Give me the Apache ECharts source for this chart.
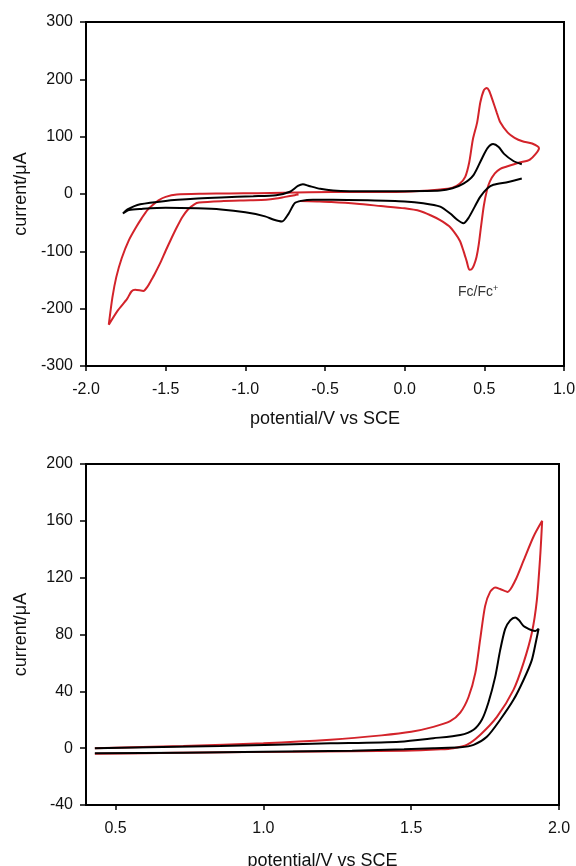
<!DOCTYPE html>
<html>
<head>
<meta charset="utf-8">
<script src="https://cdn.jsdelivr.net/npm/echarts@6/dist/echarts.min.js"></script>
<style>
  html, body { margin: 0; padding: 0; background: #fff; }
  #chart { width: 576px; height: 866px; }
</style>
</head>
<body>
<div id="chart"></div>
<script>
// [potential V, current uA], in scan order
const topBlack = [
  [0.735, 27], [0.65, 21], [0.557, 16], [0.52, 10], [0.474, -5], [0.44, -22], [0.40, -42], [0.369, -51],
  [0.33, -45], [0.286, -34], [0.223, -22], [0.116, -16], [0, -13], [-0.23, -11], [-0.45, -10],
  [-0.576, -10], [-0.65, -12], [-0.69, -16], [-0.73, -35], [-0.77, -48], [-0.82, -45], [-0.876, -39],
  [-1.0, -32], [-1.153, -27], [-1.3, -25], [-1.5, -24], [-1.65, -26], [-1.73, -28], [-1.768, -34],
  [-1.74, -27], [-1.66, -18], [-1.5, -12], [-1.3, -8], [-1.153, -6], [-0.95, -4], [-0.807, -2],
  [-0.72, 4], [-0.67, 14], [-0.639, 17], [-0.6, 14], [-0.53, 9], [-0.45, 6], [-0.345, 5], [0, 5],
  [0.223, 6], [0.30, 10], [0.369, 18], [0.432, 33], [0.485, 62], [0.52, 80], [0.555, 87],
  [0.59, 82], [0.624, 70], [0.68, 58], [0.735, 52]
];
const topRed = [
  [-0.657, -12], [-0.55, -13], [-0.46, -14], [-0.3, -17], [-0.15, -21], [0, -25], [0.1, -30],
  [0.162, -37], [0.22, -45], [0.278, -56], [0.32, -70], [0.347, -82], [0.37, -100], [0.39, -118],
  [0.406, -132], [0.421, -131], [0.435, -124], [0.451, -110], [0.465, -88], [0.48, -55], [0.497, -20],
  [0.516, 6], [0.535, 22], [0.566, 36], [0.6, 44], [0.641, 48], [0.72, 55], [0.786, 60], [0.843, 80],
  [0.80, 88], [0.739, 92], [0.69, 98], [0.647, 107], [0.6, 125], [0.578, 142], [0.55, 165],
  [0.53, 180], [0.515, 185], [0.497, 181], [0.475, 160], [0.455, 125], [0.428, 95], [0.405, 55],
  [0.38, 30], [0.345, 18], [0.3, 11], [0.223, 8], [0, 4], [-0.3, 3.5], [-0.6, 3], [-0.922, 1.5],
  [-1.1, 1], [-1.268, 0.5], [-1.43, -1], [-1.5, -5], [-1.545, -11], [-1.585, -20], [-1.615, -28],
  [-1.65, -42], [-1.684, -57], [-1.73, -80], [-1.776, -112], [-1.81, -145], [-1.834, -180],
  [-1.857, -228], [-1.8, -203], [-1.742, -183], [-1.715, -170], [-1.691, -167], [-1.639, -169],
  [-1.615, -162], [-1.59, -150], [-1.568, -139], [-1.53, -118], [-1.5, -99], [-1.465, -78],
  [-1.43, -58], [-1.395, -40], [-1.36, -27], [-1.32, -18], [-1.291, -15], [-1.153, -12.5],
  [-0.968, -11], [-0.87, -10], [-0.807, -8], [-0.75, -5], [-0.69, -2], [-0.666, -1]
];
const bottomBlack = [
  [0.43, -3.6], [0.729, -3.2], [1.0, -2.6], [1.3, -1.8], [1.476, -0.8], [1.575, 0], [1.666, 0.6],
  [1.711, 2.3], [1.756, 8], [1.801, 20], [1.846, 34], [1.88, 48], [1.908, 62], [1.923, 76],
  [1.931, 84], [1.92, 82.5], [1.908, 83], [1.88, 86], [1.865, 90], [1.852, 92], [1.835, 90],
  [1.818, 84], [1.801, 69], [1.784, 50], [1.761, 32], [1.739, 20], [1.711, 13], [1.666, 9.3],
  [1.575, 7], [1.462, 4.6], [1.227, 3.4], [0.854, 1.6], [0.43, 0]
];
const bottomRed = [
  [0.43, -4], [0.6, -3.6], [0.8, -3], [1.1, -2.5], [1.3, -2.1], [1.476, -1.8], [1.6, -0.8],
  [1.643, 0], [1.688, 2.3], [1.733, 9.3], [1.79, 22], [1.846, 41], [1.88, 60], [1.908, 81],
  [1.925, 104], [1.937, 137], [1.943, 160], [1.914, 149], [1.88, 132], [1.852, 118], [1.826, 110],
  [1.801, 112], [1.784, 113], [1.767, 110], [1.75, 100], [1.733, 76], [1.717, 53], [1.694, 36],
  [1.666, 25], [1.632, 19], [1.575, 15], [1.5, 11.5], [1.4, 9], [1.227, 6], [1.0, 3.5],
  [0.729, 1.6], [0.43, 0]
];
const bottomXTicks = [0.5, 1.0, 1.5, 2.0];

const FONT = '"Liberation Sans", Arial, sans-serif';
const RED = '#d3232a';

function xAxisOf(gridIndex, min, max, extra) {
  return Object.assign({
    type: 'value',
    gridIndex: gridIndex,
    min: min,
    max: max,
    name: 'potential/V vs SCE',
    nameLocation: 'middle',
    nameGap: 44,
    nameTextStyle: { fontFamily: FONT, fontSize: 18, color: '#111' },
    axisLine: { show: true, onZero: false, lineStyle: { color: '#000', width: 2 } },
    axisTick: { show: true, inside: false, length: 5, lineStyle: { color: '#000', width: 1.5 } },
    axisLabel: {
      fontFamily: FONT, fontSize: 16, color: '#111', margin: 16,
      showMinLabel: true, showMaxLabel: true,
      formatter: v => v.toFixed(1)
    },
    splitLine: { show: false }
  }, extra || {});
}

function yAxisOf(gridIndex, min, max, interval) {
  return {
    type: 'value',
    gridIndex: gridIndex,
    min: min,
    max: max,
    interval: interval,
    name: 'current/\u03bcA',
    nameLocation: 'middle',
    nameGap: 56,
    nameRotate: 90,
    nameTextStyle: { fontFamily: FONT, fontSize: 18, color: '#111' },
    axisLine: { show: true, onZero: false, lineStyle: { color: '#000', width: 2 } },
    axisTick: { show: true, inside: false, length: 6, lineStyle: { color: '#000', width: 1.5 } },
    axisLabel: { fontFamily: FONT, fontSize: 16, color: '#111', margin: 13 },
    splitLine: { show: false }
  };
}

function curve(name, data, color, idx) {
  return {
    name: name,
    type: 'line',
    xAxisIndex: idx,
    yAxisIndex: idx,
    data: data,
    showSymbol: false,
    symbol: 'none',
    smooth: 0.25,
    lineStyle: { color: color, width: 2 },
    itemStyle: { color: color },
    z: color === RED ? 3 : 4
  };
}

const chart = echarts.init(document.getElementById('chart'), null, { renderer: 'canvas' });
chart.setOption({
  animation: false,
  backgroundColor: '#fff',
  grid: [
    { left: 86, top: 22, width: 478, height: 344, outerBoundsMode: 'none', show: true, borderColor: '#000', borderWidth: 2, backgroundColor: 'transparent' },
    { left: 86, top: 464, width: 473, height: 341, outerBoundsMode: 'none', show: true, borderColor: '#000', borderWidth: 2, backgroundColor: 'transparent' }
  ],
  xAxis: [
    xAxisOf(0, -2.0, 1.0, { interval: 0.5 }),
    xAxisOf(1, 0.4, 2.0, {
      nameGap: 47,
      axisTick: { show: true, inside: false, length: 5, customValues: bottomXTicks, lineStyle: { color: '#000', width: 1.5 } },
      axisLabel: {
        fontFamily: FONT, fontSize: 16, color: '#111', margin: 16,
        customValues: bottomXTicks,
        formatter: v => v.toFixed(1)
      }
    })
  ],
  yAxis: [
    yAxisOf(0, -300, 300, 100),
    yAxisOf(1, -40, 200, 40)
  ],
  graphic: [
    {
      type: 'text',
      left: 458,
      top: 284,
      style: {
        text: 'Fc/Fc{sup|+}',
        fontFamily: FONT,
        fontSize: 14,
        fill: '#333',
        rich: { sup: { fontSize: 9, fill: '#333', verticalAlign: 'top', padding: [0, 0, 8, 0] } }
      }
    }
  ],
  series: [
    curve('red CV (top)', topRed, RED, 0),
    curve('black CV (top)', topBlack, '#000', 0),
    curve('red CV (bottom)', bottomRed, RED, 1),
    curve('black CV (bottom)', bottomBlack, '#000', 1)
  ]
});
</script>
</body>
</html>
